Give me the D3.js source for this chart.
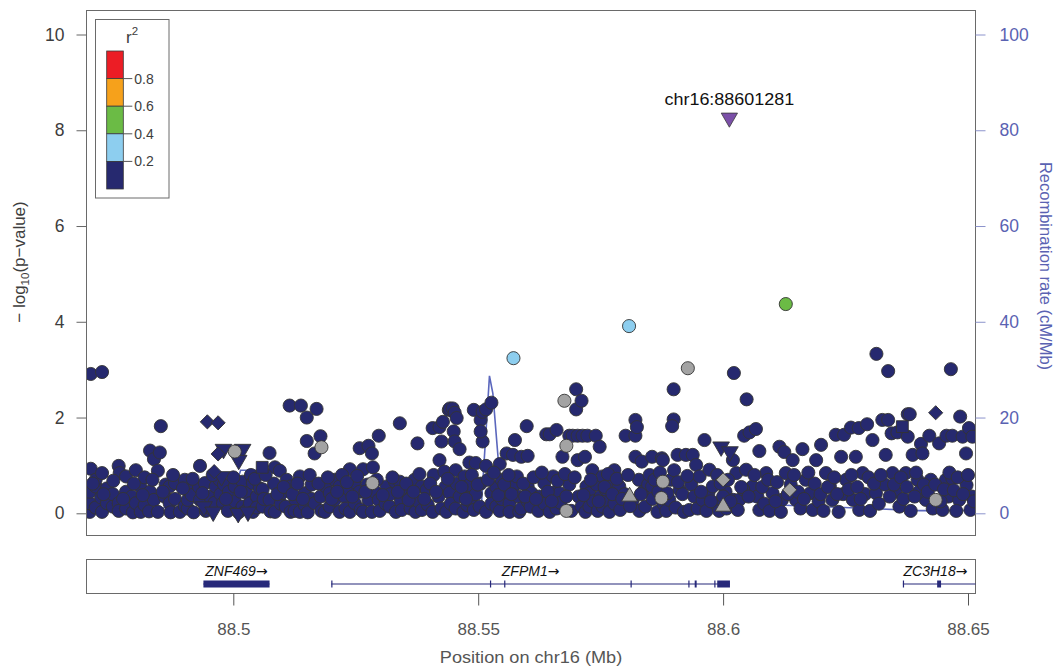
<!DOCTYPE html>
<html>
<head>
<meta charset="utf-8">
<script src="https://cdn.jsdelivr.net/npm/d3@7"></script>
<style>
  html, body { margin: 0; padding: 0; background: #fff; }
  svg { display: block; font-family: "Liberation Sans", Arial, Helvetica, sans-serif; }
</style>
</head>
<body>
<svg id="chart" width="1055" height="668"></svg>
<script>
// ---- Association results near ZFPM1 (chr16), -log10(p) by position in Mb ----

// SNPs with r2 < 0.2 to the index SNP
const lowLdCircles = [
  [88.4707,0.03],[88.4707,0.21],[88.4707,0.45],[88.4709,0.93],[88.4709,2.91],
  [88.4719,0.56],[88.4719,0.70],[88.4719,0.12],[88.4732,0.03],[88.4732,0.84],
  [88.4732,2.95],[88.4730,0.33],[88.4742,0.21],[88.4742,0.52],[88.4754,0.14],
  [88.4754,0.40],[88.4766,0.99],[88.4766,0.21],[88.4768,0.84],[88.4766,0.05],
  [88.4781,0.77],[88.4781,0.45],[88.4781,0.10],[88.4793,0.35],[88.4795,0.02],
  [88.4801,0.21],[88.4801,0.90],[88.4811,0.03],[88.4811,0.55],[88.4819,0.75],
  [88.4819,0.17],[88.4830,1.31],[88.4830,0.45],[88.4828,0.04],[88.4838,1.13],
  [88.4838,0.28],[88.4846,0.89],[88.4846,0.03],[88.4850,1.27],[88.4852,1.82],
  [88.4860,0.35],[88.4862,0.60],[88.4870,0.56],[88.4870,0.21],[88.4872,0.02],
  [88.4881,0.63],[88.4881,0.30],[88.4891,0.03],[88.4901,0.70],[88.4901,0.15],
  [88.4907,0.10],[88.4907,0.28],[88.4909,0.48],[88.4915,0.38],[88.4919,0.02],
  [88.4932,0.99],[88.4932,0.28],[88.4930,0.55],[88.4942,0.63],[88.4944,0.05],
  [88.4952,0.35],[88.4954,0.10],[88.4964,0.56],[88.4962,0.22],[88.4972,0.70],
  [88.4974,0.40],[88.4979,0.21],[88.4981,0.60],[88.4989,0.05],[88.4991,0.45],
  [88.5003,0.56],[88.5003,0.25],[88.5011,0.02],[88.5019,0.14],[88.5019,0.66],
  [88.5027,0.42],[88.5029,0.08],[88.5034,0.21],[88.5036,0.80],[88.5040,0.03],
  [88.5040,0.63],[88.5048,0.35],[88.5048,0.12],[88.5054,0.52],[88.5060,0.14],
  [88.5060,0.50],[88.5062,0.30],[88.5074,1.26],[88.5074,0.28],[88.5076,0.04],
  [88.5085,0.96],[88.5085,0.03],[88.5083,0.62],[88.5095,0.89],[88.5097,0.20],
  [88.5099,0.42],[88.5107,0.14],[88.5109,0.70],[88.5115,2.25],[88.5117,0.03],
  [88.5117,0.56],[88.5127,0.28],[88.5125,0.05],[88.5136,0.77],[88.5136,0.03],
  [88.5138,2.25],[88.5146,0.42],[88.5146,0.17],[88.5150,2.00],[88.5150,1.51],
  [88.5152,0.02],[88.5160,0.60],[88.5160,0.30],[88.5166,1.25],[88.5166,0.21],
  [88.5170,2.18],[88.5178,1.61],[88.5178,0.35],[88.5180,0.05],[88.5187,0.03],
  [88.5189,0.56],[88.5197,0.14],[88.5197,0.42],[88.5207,0.28],[88.5207,0.70],
  [88.5217,0.03],[88.5217,0.56],[88.5227,0.35],[88.5229,0.10],[88.5238,0.92],
  [88.5238,0.03],[88.5236,0.50],[88.5248,0.21],[88.5248,0.65],[88.5258,1.36],
  [88.5258,0.45],[88.5260,0.08],[88.5265,0.92],[88.5265,0.03],[88.5276,1.41],
  [88.5276,0.28],[88.5274,0.60],[88.5283,1.25],[88.5283,0.56],[88.5283,0.03],
  [88.5285,0.96],[88.5289,0.45],[88.5297,0.28],[88.5297,1.62],[88.5299,0.05],
  [88.5313,0.56],[88.5311,0.20],[88.5319,0.14],[88.5321,0.40],[88.5330,0.66],
  [88.5332,0.03],[88.5340,1.88],[88.5340,0.66],[88.5342,0.25],[88.5344,0.07],
  [88.5348,0.48],[88.5364,0.35],[88.5362,0.10],[88.5370,0.70],[88.5372,0.03],
  [88.5376,1.46],[88.5378,0.25],[88.5385,0.56],[88.5385,0.07],[88.5395,0.49],
  [88.5397,0.18],[88.5407,1.78],[88.5409,0.80],[88.5407,0.03],[88.5421,1.11],
  [88.5421,1.80],[88.5419,0.35],[88.5425,1.50],[88.5428,1.91],[88.5425,0.10],
  [88.5431,0.87],[88.5435,0.03],[88.5433,0.55],[88.5442,0.43],[88.5440,2.16],
  [88.5442,2.19],[88.5444,0.20],[88.5448,2.19],[88.5452,2.10],[88.5456,1.99],
  [88.5450,1.71],[88.5452,1.50],[88.5454,0.90],[88.5454,0.10],[88.5456,0.62],
  [88.5462,1.34],[88.5462,0.35],[88.5472,0.77],[88.5470,0.03],[88.5478,0.17],
  [88.5478,0.45],[88.5482,0.59],[88.5482,1.06],[88.5484,0.25],[88.5491,2.16],
  [88.5491,0.07],[88.5495,1.05],[88.5495,0.40],[88.5505,1.95],[88.5505,0.62],
  [88.5503,0.14],[88.5509,2.12],[88.5509,1.50],[88.5505,1.71],[88.5516,2.17],
  [88.5516,0.99],[88.5516,0.03],[88.5527,2.31],[88.5527,0.42],[88.5527,0.20],
  [88.5537,0.14],[88.5537,0.55],[88.5544,1.03],[88.5544,0.05],[88.5548,0.70],
  [88.5548,0.30],[88.5558,1.25],[88.5558,0.45],[88.5564,0.21],[88.5564,0.03],
  [88.5571,1.22],[88.5575,1.53],[88.5575,0.60],[88.5579,0.77],[88.5584,0.03],
  [88.5582,0.35],[88.5588,1.18],[88.5588,0.10],[88.5599,1.82],[88.5601,1.20],
  [88.5601,0.56],[88.5601,0.25],[88.5607,0.14],[88.5609,0.42],[88.5625,0.35],
  [88.5623,0.05],[88.5635,0.63],[88.5635,0.20],[88.5639,1.65],[88.5646,1.65],
  [88.5653,0.77],[88.5646,0.03],[88.5660,1.74],[88.5660,0.10],[88.5658,0.45],
  [88.5666,0.42],[88.5672,1.18],[88.5668,0.22],[88.5686,1.62],[88.5693,1.62],
  [88.5686,0.60],[88.5690,0.05],[88.5700,2.59],[88.5700,2.17],[88.5703,1.11],
  [88.5703,1.62],[88.5705,0.35],[88.5711,0.14],[88.5711,2.35],[88.5713,1.62],
  [88.5718,1.18],[88.5721,0.56],[88.5719,0.03],[88.5727,0.14],[88.5727,0.42],
  [88.5723,1.62],[88.5733,0.90],[88.5735,0.25],[88.5740,1.62],[88.5742,0.60],
  [88.5744,0.05],[88.5748,1.39],[88.5750,0.35],[88.5754,0.77],[88.5754,0.14],
  [88.5762,0.28],[88.5760,0.50],[88.5768,0.03],[88.5770,0.66],[88.5778,0.90],
  [88.5778,0.20],[88.5788,0.56],[88.5790,0.07],[88.5801,1.62],[88.5799,0.40],
  [88.5821,1.62],[88.5821,1.95],[88.5824,1.80],[88.5821,1.18],[88.5815,0.25],
  [88.5828,0.70],[88.5829,0.05],[88.5834,1.08],[88.5837,0.45],[88.5841,0.14],
  [88.5847,0.60],[88.5855,1.18],[88.5855,0.56],[88.5856,0.30],[88.5866,0.03],
  [88.5868,0.45],[88.5875,1.15],[88.5878,0.20],[88.5877,1.11],[88.5884,0.05],
  [88.5894,0.70],[88.5890,0.28],[88.5899,2.59],[88.5899,1.96],[88.5896,1.82],
  [88.5900,0.90],[88.5903,0.12],[88.5907,1.22],[88.5911,0.49],[88.5917,0.40],
  [88.5920,0.03],[88.5924,1.22],[88.5931,0.07],[88.5935,0.60],[88.5938,1.22],
  [88.5941,0.35],[88.5945,1.01],[88.5948,0.10],[88.5952,0.77],[88.5962,1.53],
  [88.5958,0.28],[88.5966,0.05],[88.5970,0.42],[88.5972,0.91],[88.5979,0.56],
  [88.5985,0.20],[88.5988,0.80],[88.5992,0.05],[88.6005,0.45],[88.6007,0.10],
  [88.6020,1.11],[88.6022,2.93],[88.6021,0.28],[88.6027,0.84],[88.6033,0.28],
  [88.6030,0.07],[88.6043,1.62],[88.6048,2.38],[88.6054,1.69],[88.6067,1.76],
  [88.6047,0.91],[88.6060,0.56],[88.6041,0.50],[88.6074,1.30],[88.6074,0.07],
  [88.6070,0.35],[88.6088,0.84],[88.6084,0.20],[88.6101,0.42],[88.6095,0.05],
  [88.6115,1.39],[88.6125,1.28],[88.6128,0.84],[88.6120,0.28],[88.6118,0.03],
  [88.6142,1.11],[88.6149,0.28],[88.6138,0.60],[88.6162,1.34],[88.6169,0.70],
  [88.6158,0.10],[88.6183,0.07],[88.6178,0.42],[88.6190,1.11],[88.6200,1.43],
  [88.6195,0.25],[88.6210,0.84],[88.6205,0.05],[88.6223,0.28],[88.6218,0.56],
  [88.6230,1.64],[88.6247,1.64],[88.6241,1.18],[88.6251,0.70],[88.6236,0.03],
  [88.6245,0.40],[88.6261,1.79],[88.6277,1.78],[88.6271,1.18],[88.6278,0.07],
  [88.6265,0.28],[88.6285,0.84],[88.6290,0.40],[88.6294,1.86],[88.6305,1.53],
  [88.6312,0.42],[88.6313,3.33],[88.6300,0.05],[88.6318,0.20],[88.6325,1.95],
  [88.6337,1.95],[88.6337,2.97],[88.6332,1.22],[88.6344,1.67],[88.6356,1.69],
  [88.6346,0.84],[88.6360,0.14],[88.6330,0.60],[88.6352,0.45],[88.6377,2.07],
  [88.6381,2.07],[88.6377,1.60],[88.6373,0.84],[88.6368,0.30],[88.6387,1.22],
  [88.6383,0.05],[88.6397,0.70],[88.6404,1.45],[88.6407,1.25],[88.6414,0.28],
  [88.6400,0.45],[88.6421,1.62],[88.6424,0.70],[88.6428,0.10],[88.6441,1.46],
  [88.6448,0.07],[88.6455,0.70],[88.6456,1.62],[88.6468,1.62],[88.6468,0.73],
  [88.6465,3.01],[88.6460,0.35],[88.6484,2.02],[88.6482,0.28],[88.6489,1.60],
  [88.6476,0.05],[88.6496,1.25],[88.6497,0.59],[88.6502,1.78],[88.6505,0.07],
  [88.6509,1.60],[88.6508,0.35],
  [88.4713,0.62],[88.4735,0.40],[88.4755,0.68],[88.4775,0.30],[88.4797,0.62],
  [88.4815,0.38],[88.4835,0.70],[88.4856,0.45],[88.4877,0.80],[88.4897,0.52],
  [88.4917,0.72],[88.4937,0.42],[88.4958,0.80],[88.4985,0.30],[88.5000,0.75],
  [88.5015,0.45],[88.5044,0.72],[88.5066,0.80],[88.5090,0.40],[88.5103,0.55],
  [88.5121,0.40],[88.5131,0.62],[88.5142,0.30],[88.5156,0.80],[88.5174,0.62],
  [88.5193,0.75],[88.5201,0.30],[88.5212,0.45],[88.5222,0.80],[88.5232,0.65],
  [88.5243,0.35],[88.5253,0.78],[88.5270,0.45],[88.5293,0.70],[88.5305,0.38],
  [88.5325,0.75],[88.5336,0.45],[88.5353,0.62],[88.5358,0.28],[88.5368,0.45],
  [88.5380,0.82],[88.5390,0.30],[88.5402,0.62],[88.5414,0.45],[88.5438,0.72],
  [88.5466,0.55],[88.5475,0.30],[88.5487,0.80],[88.5499,0.60],[88.5520,0.70],
  [88.5532,0.85],[88.5541,0.38],[88.5553,0.60],[88.5562,0.80],[88.5568,0.40],
  [88.5592,0.62],[88.5596,0.35],[88.5613,0.75],[88.5618,0.30],[88.5630,0.85],
  [88.5642,0.45],[88.5650,0.25],[88.5662,0.68],[88.5677,0.82],[88.5680,0.35],
  [88.5697,0.75],[88.5715,0.38],[88.5730,0.70],[88.5746,0.25],[88.5758,0.55],
  [88.5765,0.82],[88.5774,0.40],[88.5783,0.72],[88.5794,0.30],[88.5806,0.80],
  [88.5810,0.15],[88.5832,0.40],[88.5850,0.80],[88.5860,0.70],[88.5871,0.85],
  [88.5886,0.42],[88.5908,0.65],[88.5927,0.78],[88.5955,0.45],[88.5975,0.25],
  [88.5995,0.62],[88.6000,0.35],[88.6010,0.70],[88.6015,0.25],[88.6037,0.55],
  [88.6052,0.35],[88.6064,0.80],[88.6080,0.55],[88.6092,0.70],[88.6107,0.25],
  [88.6110,0.65],[88.6132,0.40],[88.6145,0.80],[88.6153,0.45],[88.6165,0.30],
  [88.6174,0.85],[88.6187,0.62],[88.6199,0.40],[88.6214,0.55],[88.6227,0.75],
  [88.6233,0.40],[88.6256,0.50],[88.6262,0.80],[88.6274,0.55],[88.6281,0.30],
  [88.6297,0.75],[88.6308,0.62],[88.6322,0.80],[88.6340,0.35],[88.6349,0.60],
  [88.6363,0.75],[88.6375,0.55],[88.6391,0.35],[88.6394,0.85],[88.6410,0.60],
  [88.6418,0.45],[88.6433,0.60],[88.6444,0.25],[88.6451,0.50],[88.6462,0.85],
  [88.6471,0.48],[88.6479,0.75],[88.6490,0.40],[88.6500,0.80],[88.6512,0.25]
];
const lowLdTriangles = [
  [88.4980,1.34],[88.5019,1.34],[88.5011,1.11],[88.4976,0.77],[88.5010,0.00],
  [88.5030,0.03],[88.4940,0.14],[88.4959,0.03],[88.5996,1.39],[88.6014,1.29]
];
const lowLdDiamonds = [
  [88.4947,1.91],[88.4969,1.89],[88.4969,1.24],[88.4961,0.87],[88.6434,2.10]
];
const lowLdSquares = [
  [88.5059,0.96],[88.6366,1.81]
];
// SNPs without LD information
const noLdCircles = [
  [88.5003,1.29],[88.5180,1.38],[88.5284,0.63],[88.5676,2.35],[88.5680,1.41],
  [88.5680,0.05],[88.5877,0.66],[88.5874,0.32],[88.5928,3.03],[88.6434,0.28]
];
const noLdTriangles = [[88.5809,0.35],[88.6000,0.14]];
const noLdDiamonds = [[88.6000,0.70],[88.6136,0.49]];
// SNPs in modest LD with the index SNP: [position, -log10 p, r2]
const ldCircles = [[88.5572,3.24,0.30],[88.5808,3.91,0.30],[88.6128,4.37,0.50]];
// index SNP
const indexSnp = { name: "chr16:88601281", pos: 88.601281, logp: 8.26 };

// recombination rate (cM/Mb)
const recombPos  = [88.4700,88.4775,88.4790,88.4950,88.4990,88.5015,88.5070,88.5085,88.5200,88.5400,
                    88.5500,88.5507,88.5523,88.5530,88.5545,88.5560,88.5700,88.5750,88.5790,88.5850,
                    88.5990,88.6020,88.6100,88.6300,88.6400,88.6515];
const recombRate = [4.5,4.5,1.2,1.0,1.2,9.0,9.0,2.0,1.0,0.85,
                    0.85,2.5,28.7,25,6,3.5,3.2,1.3,4.0,3.5,
                    3.5,3.0,1.8,1.0,0.55,0.55];

// genes in the region
const geneNames  = ["ZNF469", "ZFPM1", "ZC3H18"];
const geneStart  = [88.4939, 88.5200, 88.6367];
const geneEnd    = [88.5074, 88.6014, 88.6700];
const geneExons  = [
  [[88.4939, 88.5074]],
  [[88.5200,88.5201],[88.5524,88.5526],[88.5553,88.5555],[88.5811,88.5812],[88.5929,88.5930],
   [88.5942,88.5946],[88.5982,88.5984],[88.5988,88.6014]],
  [[88.6367,88.6368],[88.6437,88.6445]]
];

// axis ticks
const xTicks = [88.5, 88.55, 88.6, 88.65];
const yTicks = [0, 2, 4, 6, 8, 10];
const recombTicks = [0, 20, 40, 60, 80, 100];
const ldBreaks = [0.2, 0.4, 0.6, 0.8];
const ldColors = ["#26296F", "#8DCEEF", "#6BBB45", "#F6A11B", "#EC1D25"];

// ---- drawing ----
const svg = d3.select("#chart");
const frame = { left: 86.5, right: 975.5, top: 10.5, bottom: 535.5 };
const gene = { top: 559.5, bottom: 593.5, line: 584 };

const x = d3.scaleLinear().domain([88.5, 88.65]).range([233.3, 968.0]);
const y = d3.scaleLinear().domain([0, 10]).range([513.3, 34.5]);
const yR = d3.scaleLinear().domain([0, 100]).range([513.3, 34.5]);
const ldColor = d3.scaleThreshold().domain(ldBreaks).range(ldColors);
const noLdColor = "#A3A3A3";
const recombColor = "#5B67BD";
const axisText = "#3d3d3d";

const defs = svg.append("defs");
defs.append("clipPath").attr("id", "plotClip").append("rect")
  .attr("x", frame.left).attr("y", frame.top)
  .attr("width", frame.right - frame.left).attr("height", frame.bottom - frame.top);
defs.append("clipPath").attr("id", "geneClip").append("rect")
  .attr("x", frame.left).attr("y", gene.top)
  .attr("width", frame.right - frame.left).attr("height", gene.bottom - gene.top);

// recombination line (behind points)
const recomb = recombPos.map((p, i) => [p, recombRate[i]]);
svg.append("path")
  .attr("clip-path", "url(#plotClip)")
  .attr("d", d3.line().x(d => x(d[0])).y(d => yR(d[1]))(recomb))
  .attr("fill", "none").attr("stroke", recombColor).attr("stroke-width", 1.6);

const pts = svg.append("g").attr("clip-path", "url(#plotClip)");
const sym = {
  circle: d3.symbol().type(d3.symbolCircle).size(135)(),
  triDown: d3.symbol().type(d3.symbolTriangle).size(120)(),
  triUp: d3.symbol().type(d3.symbolTriangle).size(110)(),
  diamond: d3.symbol().type(d3.symbolSquare).size(100)(),
  square: d3.symbol().type(d3.symbolSquare).size(140)()
};
const rot = { circle: 0, triDown: 180, triUp: 0, diamond: 45, square: 0 };

function drawSet(data, shape, fillFn) {
  pts.selectAll(null).data(data).enter().append("path")
    .attr("d", sym[shape])
    .attr("transform", d => `translate(${x(d[0])},${y(d[1])}) rotate(${rot[shape]})`)
    .attr("fill", fillFn)
    .attr("stroke", "#343434").attr("stroke-width", 0.9);
}
drawSet(lowLdCircles, "circle", () => ldColor(0.1));
drawSet(lowLdTriangles, "triDown", () => ldColor(0.1));
drawSet(lowLdDiamonds, "diamond", () => ldColor(0.1));
drawSet(lowLdSquares, "square", () => ldColor(0.1));
drawSet(noLdCircles, "circle", () => noLdColor);
drawSet(noLdTriangles, "triUp", () => noLdColor);
drawSet(noLdDiamonds, "diamond", () => noLdColor);
drawSet(ldCircles, "circle", d => ldColor(d[2]));

// index SNP
svg.append("path")
  .attr("d", d3.symbol().type(d3.symbolTriangle).size(115)())
  .attr("transform", `translate(${x(indexSnp.pos)},${y(indexSnp.logp)}) rotate(180)`)
  .attr("fill", "#7B4FA8").attr("stroke", "#3a3a3a").attr("stroke-width", 0.8);
svg.append("text")
  .attr("transform", `translate(${x(indexSnp.pos)},${y(indexSnp.logp) - 13}) scale(1.09,1)`)
  .attr("text-anchor", "middle").attr("font-size", 16.5).attr("fill", "#111")
  .text(indexSnp.name);

// frame
svg.append("rect")
  .attr("x", frame.left).attr("y", frame.top)
  .attr("width", frame.right - frame.left).attr("height", frame.bottom - frame.top)
  .attr("fill", "none").attr("stroke", "#6a6a6a").attr("stroke-width", 1);

// left axis
const gL = svg.append("g").attr("transform", `translate(${frame.left},0)`)
  .call(d3.axisLeft(y).tickValues(yTicks).tickSize(10).tickPadding(12));
gL.select(".domain").remove();
gL.selectAll("line").attr("stroke", "#666");
gL.selectAll("text").attr("font-size", 17.5).attr("fill", axisText)
  .style("font-family", "Liberation Sans, Arial, sans-serif");

// right axis
const gR = svg.append("g").attr("transform", `translate(${frame.right},0)`)
  .call(d3.axisRight(yR).tickValues(recombTicks).tickSize(10).tickPadding(14));
gR.select(".domain").remove();
gR.selectAll("line").attr("stroke", "#8C93CC");
gR.selectAll("text").attr("font-size", 17.5).attr("fill", "#5A62B2")
  .style("font-family", "Liberation Sans, Arial, sans-serif");

// axis titles
const lt = svg.append("text")
  .attr("transform", "translate(25,262) rotate(-90)")
  .attr("text-anchor", "middle").attr("font-size", 17).attr("fill", axisText);
lt.append("tspan").text("\u2212 log");
lt.append("tspan").attr("font-size", 11.5).attr("dy", 4).text("10");
lt.append("tspan").attr("dy", -4).text("(p\u2212value)");

svg.append("text")
  .attr("transform", "translate(1040,266) rotate(90)")
  .attr("text-anchor", "middle").attr("font-size", 16.5).attr("fill", "#5A62B2")
  .text("Recombination rate (cM/Mb)");

// legend
const lg = svg.append("g");
lg.append("rect").attr("x", 95.5).attr("y", 19.5).attr("width", 73.5).attr("height", 178.5)
  .attr("fill", "#fff").attr("stroke", "#6a6a6a");
const segH = 27.6, barTop = 51, barX = 106.7, barW = 16.6;
const legendColors = ldColors.slice().reverse();
legendColors.forEach((c, i) => {
  lg.append("rect").attr("x", barX).attr("y", barTop + i * segH)
    .attr("width", barW).attr("height", segH)
    .attr("fill", c).attr("stroke", "#3a3a3a").attr("stroke-width", 0.8);
});
ldBreaks.slice().reverse().forEach((b, i) => {
  const yy = barTop + (i + 1) * segH;
  lg.append("line").attr("x1", barX + barW).attr("x2", barX + barW + 9)
    .attr("y1", yy).attr("y2", yy).attr("stroke", "#555");
  lg.append("text").attr("x", barX + barW + 11).attr("y", yy + 5)
    .attr("font-size", 14).attr("fill", axisText).text(b.toFixed(1));
});
const rt = lg.append("text").attr("x", 126).attr("y", 43).attr("font-size", 17).attr("fill", axisText);
rt.append("tspan").text("r");
rt.append("tspan").attr("font-size", 11.5).attr("dy", -8).text("2");

// gene panel
svg.append("rect")
  .attr("x", frame.left).attr("y", gene.top)
  .attr("width", frame.right - frame.left).attr("height", gene.bottom - gene.top)
  .attr("fill", "none").attr("stroke", "#6a6a6a");
const gg = svg.append("g").attr("clip-path", "url(#geneClip)");
const geneColor = "#27297A";
geneNames.forEach((name, i) => {
  gg.append("line")
    .attr("x1", x(geneStart[i])).attr("x2", x(geneEnd[i]))
    .attr("y1", gene.line).attr("y2", gene.line)
    .attr("stroke", geneColor).attr("stroke-width", 1.2);
  geneExons[i].forEach(e => {
    gg.append("rect")
      .attr("x", x(e[0])).attr("y", gene.line - 3.5)
      .attr("width", Math.max(1.2, x(e[1]) - x(e[0]))).attr("height", 7)
      .attr("fill", geneColor);
  });
  const vis0 = Math.max(x(geneStart[i]), frame.left);
  const vis1 = Math.min(x(geneEnd[i]), frame.right);
  const tx = Math.min((vis0 + vis1) / 2, frame.right - 40);
  const t = gg.append("text")
    .attr("x", tx).attr("y", 576)
    .attr("text-anchor", "middle").attr("font-size", 14).attr("font-style", "italic")
    .attr("fill", "#111");
  t.append("tspan").text(name);
  t.append("tspan").attr("font-family", "DejaVu Sans").attr("font-style", "normal")
    .attr("font-size", 14).text("\u2192");
});

// bottom axis
const gB = svg.append("g").attr("transform", `translate(0,${gene.bottom})`)
  .call(d3.axisBottom(x).tickValues(xTicks).tickSize(12).tickPadding(17).tickFormat(d => String(d)));
gB.select(".domain").remove();
gB.selectAll("line").attr("stroke", "#555");
gB.selectAll("text").attr("font-size", 17).attr("fill", "#555")
  .style("font-family", "Liberation Sans, Arial, sans-serif");

svg.append("text")
  .attr("transform", "translate(531,663) scale(1.1,1)")
  .attr("text-anchor", "middle").attr("font-size", 16.5).attr("fill", "#555")
  .text("Position on chr16 (Mb)");
</script>
</body>
</html>
